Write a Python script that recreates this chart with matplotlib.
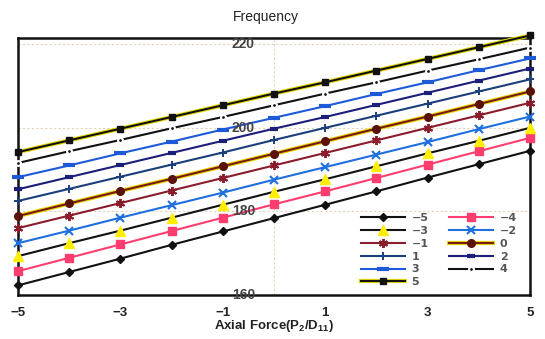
import matplotlib
matplotlib.use("Agg")
import matplotlib.pyplot as plt

x_force = [-5, -4, -3, -2, -1, 0, 1, 2, 3, 4, 5]
xtick_vals = [-5, -3, -1, 1, 3, 5]
ytick_vals = [160, 180, 200, 220]

series = {
    "-5": [162.3, 165.5, 168.7, 172.0, 175.2, 178.4, 181.6, 184.8, 188.1, 191.3, 194.5],
    "-4": [165.7, 168.9, 172.1, 175.3, 178.5, 181.7, 184.8, 188.0, 191.2, 194.4, 197.6],
    "-3": [169.3, 172.4, 175.4, 178.5, 181.6, 184.7, 187.7, 190.8, 193.9, 196.9, 200.0],
    "-2": [172.4, 175.4, 178.5, 181.5, 184.5, 187.6, 190.6, 193.6, 196.6, 199.7, 202.7],
    "-1": [176.0, 179.0, 182.0, 185.0, 188.0, 191.0, 194.0, 197.0, 200.0, 203.0, 206.0],
    "0":  [178.9, 181.9, 184.9, 187.8, 190.8, 193.8, 196.8, 199.8, 202.7, 205.7, 208.7],
    "1":  [182.5, 185.4, 188.3, 191.2, 194.1, 197.1, 200.0, 202.9, 205.8, 208.7, 211.6],
    "2":  [185.3, 188.2, 191.1, 194.0, 196.9, 199.8, 202.6, 205.5, 208.4, 211.3, 214.2],
    "3":  [188.2, 191.0, 193.9, 196.7, 199.6, 202.4, 205.2, 208.1, 210.9, 213.8, 216.6],
    "4":  [191.6, 194.4, 197.1, 199.9, 202.6, 205.4, 208.2, 210.9, 213.7, 216.4, 219.2],
    "5":  [194.2, 197.0, 199.8, 202.6, 205.4, 208.2, 210.9, 213.7, 216.5, 219.3, 222.1],
}
legend_labels = {"-5": "\u22125", "-4": "\u22124", "-3": "\u22123", "-2": "\u22122",
                 "-1": "\u22121", "0": "0", "1": "1", "2": "2", "3": "3", "4": "4", "5": "5"}

styles = {
    "-5": dict(color="#111111", marker="D", ms=3.8, mfc="#111111", mec="#111111"),
    "-4": dict(color="#ff3d6e", marker="s", ms=5.5, mfc="#ff3d6e", mec="#ff3d6e"),
    "-3": dict(color="#111111", marker="^", ms=6.5, mfc="#ffee00", mec="#ffee00"),
    "-2": dict(color="#1f6fe0", marker="x", ms=5.5, mfc="#1f6fe0", mec="#1f6fe0", mew=1.5),
    "-1": dict(color="#8a1c2c", marker=(6, 2, 0), ms=6.5, mfc="#8a1c2c", mec="#8a1c2c", mew=1.4),
    "0":  dict(color="#7a1a14", marker="o", ms=5.5, mfc="#5a1208", mec="#5a1208"),
    "1":  dict(color="#1a3f7a", marker="+", ms=6, mfc="#1a3f7a", mec="#1a3f7a", mew=1.4),
    "2":  dict(color="#1b1f7a", marker="_", ms=6, mfc="#1b1f7a", mec="#1b1f7a", mew=3.0),
    "3":  dict(color="#1e5ad8", marker="_", ms=8.5, mfc="#1e5ad8", mec="#1e5ad8", mew=3.0),
    "4":  dict(color="#111111", marker="o", ms=3.5, mfc="#111111", mec="white", mew=1.5),
    "5":  dict(color="#111111", marker="s", ms=4.5, mfc="#111111", mec="#111111"),
}
yellow_edge = {"0", "5"}

plt.rcParams["mathtext.default"] = "regular"
fig = plt.figure(figsize=(5.45, 3.39), dpi=100)
ax = fig.add_axes([18/545, 1-295/339, 512/545, 257/339])
ax.set_xlim(-5, 5)
ax.set_ylim(160, 221.5)

handles = {}
for key, vals in series.items():
    st = dict(styles[key])
    color = st.pop("color")
    ln, = ax.plot(x_force, vals, color=color, lw=1.5, clip_on=False, zorder=3, **st)
    if key in yellow_edge:
        under, = ax.plot(x_force, vals, color="#e6d800", lw=3.0, clip_on=False, zorder=2.9)
        handles[key] = (under, ln)
    else:
        handles[key] = ln

# faint grid lines
for yv in ytick_vals[1:]:
    ax.axhline(yv, color="#e2d3bd", lw=0.8, ls=(0, (2, 2)), zorder=1)
ax.axvline(0, color="#e2d3bd", lw=0.8, ls=(0, (2, 2)), zorder=1)

# y labels drawn inside the plot
for yv in ytick_vals:
    ax.text(-0.6, yv, str(yv), ha="center", va="center", fontsize=10,
            color="#444444", fontweight="bold", family="Liberation Sans", zorder=4)

ax.set_yticks([])
ax.set_xticks(xtick_vals)
ax.set_xticklabels([str(v).replace("-", "\u2212") for v in xtick_vals])
ax.tick_params(axis="x", length=0, pad=9, labelsize=9.5, labelcolor="#222222")
for lab in ax.get_xticklabels():
    lab.set_fontweight("bold")
    lab.set_family("Liberation Sans")
for sp in ax.spines.values():
    sp.set_linewidth(1.8)
    sp.set_color("#111111")

ax.set_xlabel("Axial Force(P$_2$/D$_{11}$)", fontsize=9.5, fontweight="bold",
              color="#222222", family="Liberation Sans", labelpad=-1)
fig.text(0.487, 1-17/339, "Frequency", ha="center", va="center", fontsize=10,
         color="#222222", family="Liberation Sans")

order = ["-5", "-3", "-1", "1", "3", "5", "-4", "-2", "0", "2", "4"]
leg = ax.legend([handles[k] for k in order], [legend_labels[k] for k in order],
                ncol=2, loc="lower right", bbox_to_anchor=(0.99, 0.0),
                frameon=False, fontsize=8, handlelength=4.0, columnspacing=1.8,
                labelspacing=0.25, handletextpad=0.6, borderaxespad=0.3)
for t in leg.get_texts():
    t.set_color("#555555")
    t.set_fontweight("bold")

fig.savefig("out.png", dpi=100, facecolor="white")
